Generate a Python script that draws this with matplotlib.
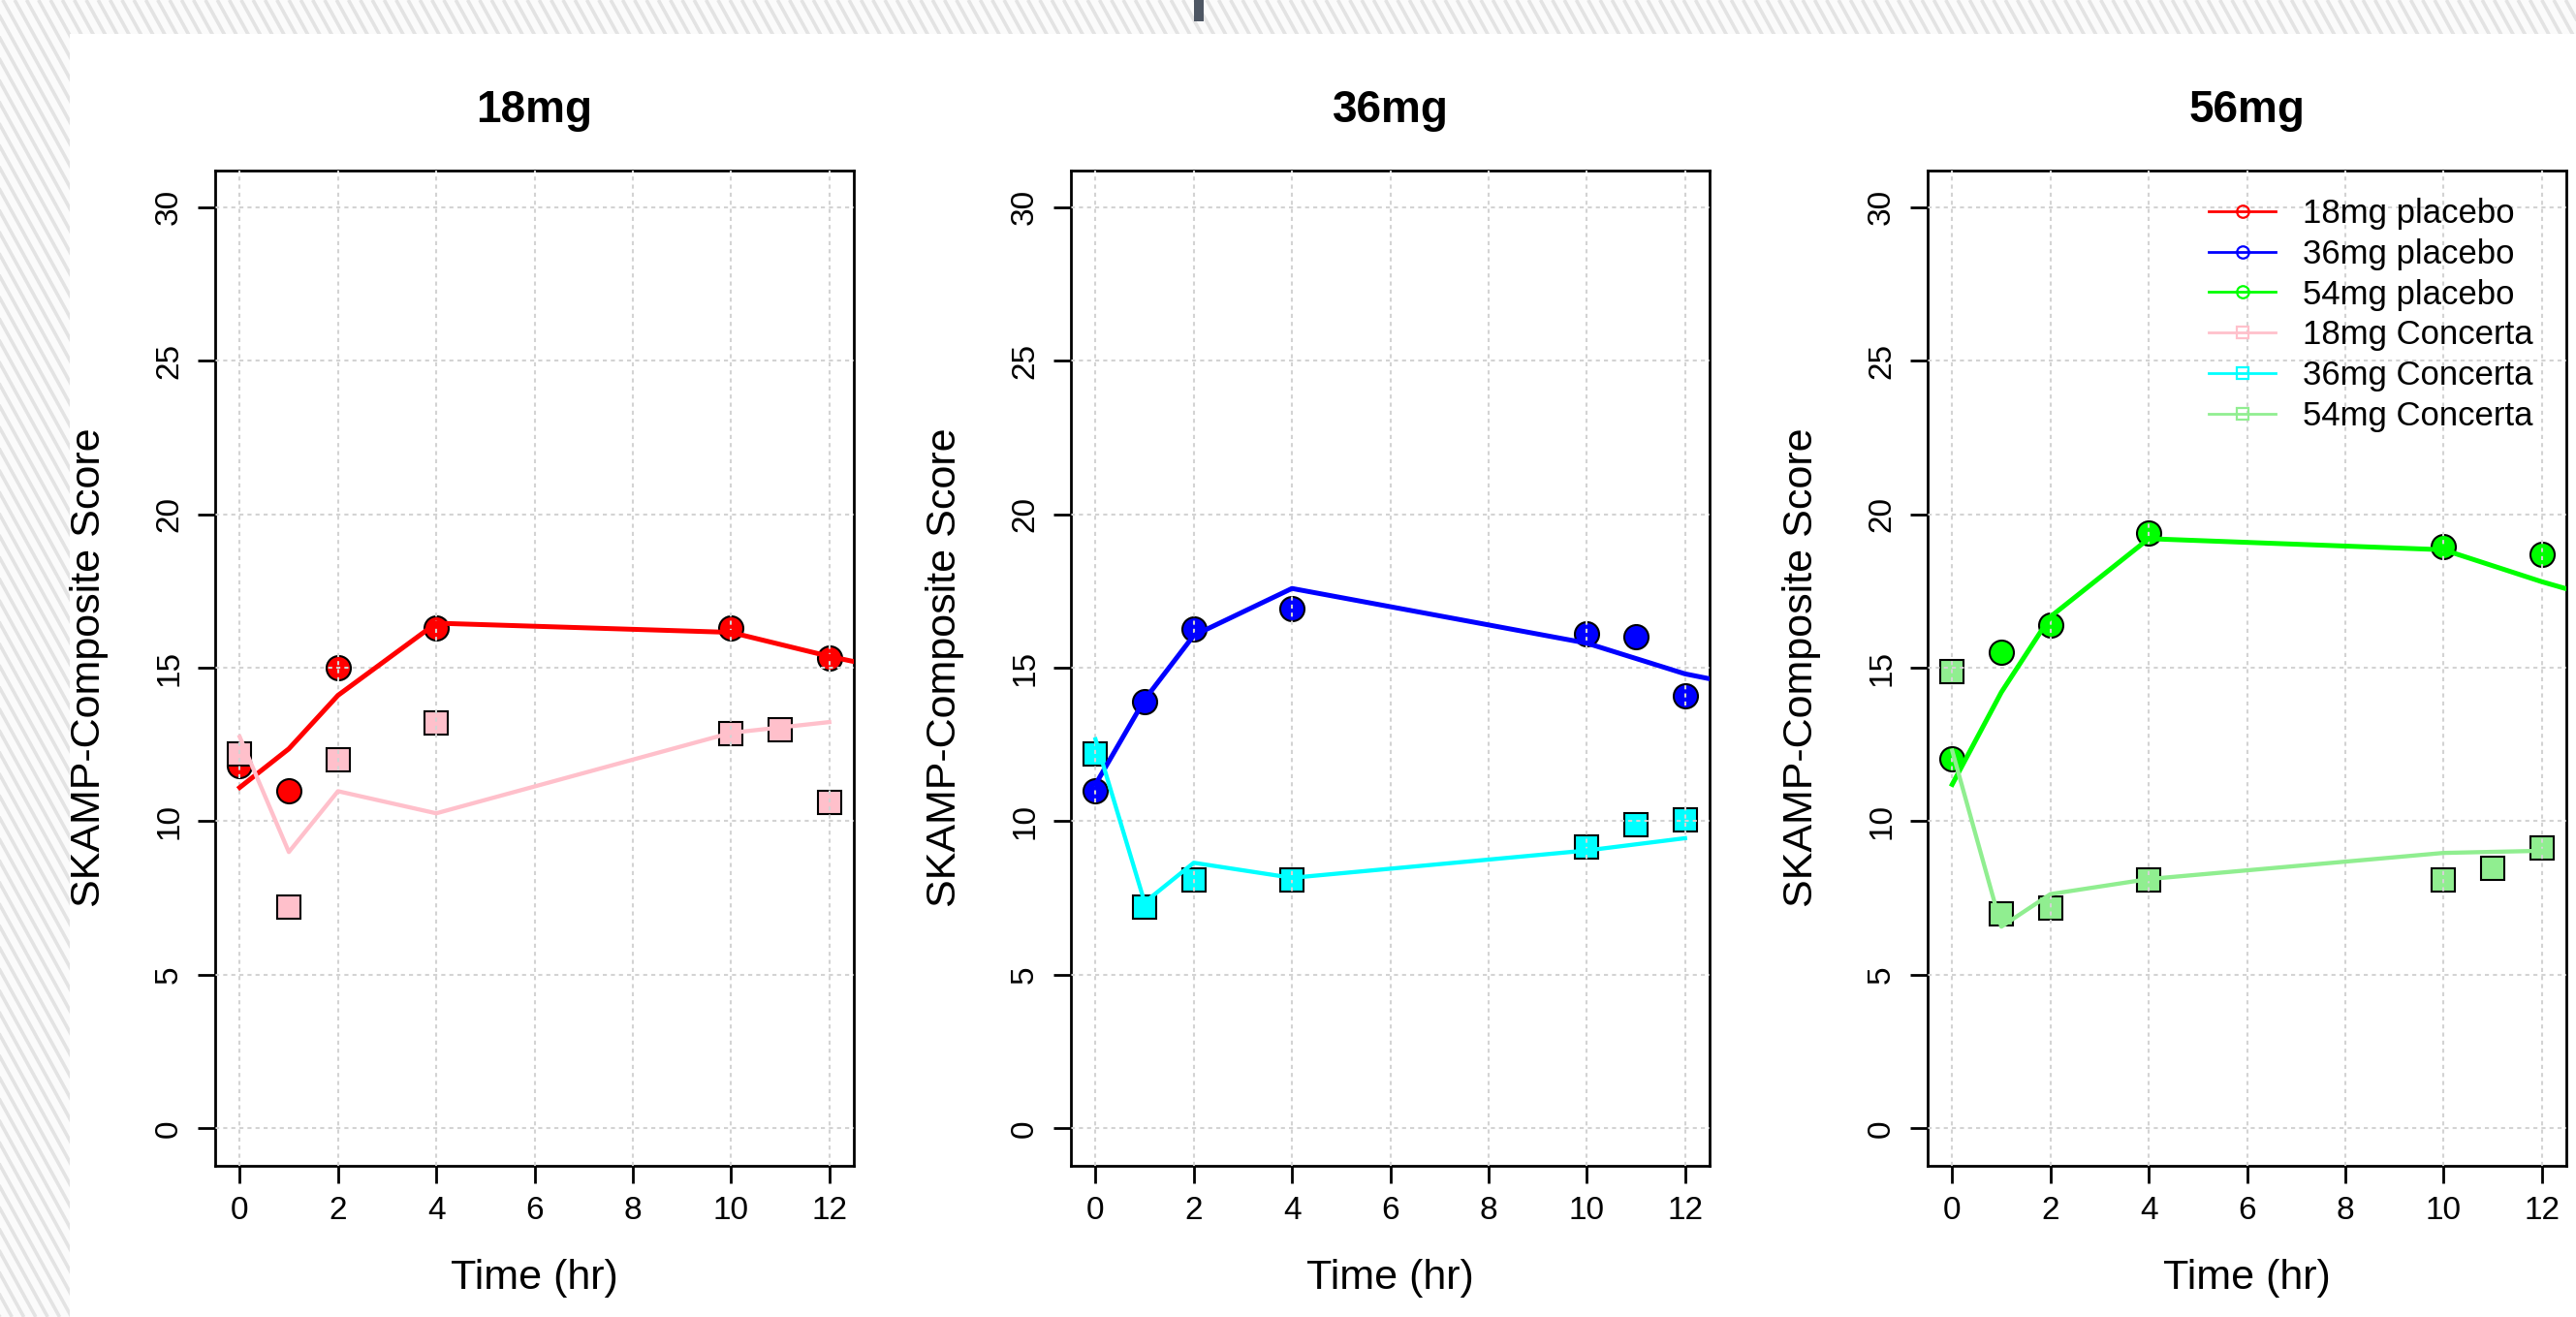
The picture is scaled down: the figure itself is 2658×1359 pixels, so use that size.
import matplotlib
matplotlib.use("Agg")
import matplotlib.pyplot as plt
from matplotlib.lines import Line2D
from matplotlib.patches import Rectangle
from matplotlib.collections import LineCollection

plt.rcParams['font.family'] = ['Liberation Sans', 'DejaVu Sans']

# --- data ---
panel_titles = ["18mg", "36mg", "56mg"]

# observed means (markers)
obs_time_placebo = [[0, 1, 2, 4, 10, 12], [0, 1, 2, 4, 10, 11, 12], [0, 1, 2, 4, 10, 12]]
obs_placebo = [
    [11.8, 11.0, 15.0, 16.3, 16.3, 15.3],
    [11.0, 13.9, 16.25, 16.94, 16.1, 16.0, 14.1],
    [12.03, 15.5, 16.38, 19.38, 18.94, 18.7],
]
obs_time_concerta = [0, 1, 2, 4, 10, 11, 12]
obs_concerta = [
    [12.2, 7.2, 12.0, 13.2, 12.85, 12.97, 10.6],
    [12.2, 7.2, 8.08, 8.08, 9.16, 9.9, 10.05],
    [14.87, 7.0, 7.17, 8.1, 8.1, 8.48, 9.14],
]

# model curves (lines)
fit_time_placebo = [0, 1, 2, 4, 10, 12, 13]
fit_placebo = [
    [11.1, 12.36, 14.1, 16.45, 16.15, 15.37, 15.03],
    [11.2, 13.96, 16.05, 17.58, 15.8, 14.8, 14.48],
    [11.2, 14.2, 16.66, 19.2, 18.84, 17.8, 17.34],
]
fit_time_concerta = [0, 1, 2, 4, 10, 12]
fit_concerta = [
    [12.75, 9.0, 10.98, 10.26, 12.88, 13.23],
    [12.67, 7.36, 8.65, 8.16, 9.05, 9.45],
    [12.3, 6.57, 7.63, 8.12, 8.97, 9.04],
]

placebo_colors = ["#ff0000", "#0000ff", "#00ff00"]
concerta_colors = ["#ffc0cb", "#00ffff", "#90ee90"]
legend_labels = ["18mg placebo", "36mg placebo", "54mg placebo",
                 "18mg Concerta", "36mg Concerta", "54mg Concerta"]

x_ticks = [0, 2, 4, 6, 8, 10, 12]
y_ticks = [0, 5, 10, 15, 20, 25, 30]

W, H = 2658, 1359
fig = plt.figure(figsize=(W / 100, H / 100), dpi=100, facecolor="#fbfbfb")

# striped page background (pixel units -> figure fractions)
slant = 0.55
step = 12.3
segs = []
x0 = -slant * H
while x0 < W:
    segs.append([(x0 / W, 1.0), ((x0 + slant * H) / W, 0.0)])
    x0 += step
fig.add_artist(LineCollection(segs, colors="#e3e3e3", linewidths=2.6,
                              transform=fig.transFigure, zorder=-10))
fig.patches.append(Rectangle((72 / W, 0), 1, 1 - 35 / H, transform=fig.transFigure,
                             facecolor="white", edgecolor="none", zorder=-9))
fig.patches.append(Rectangle((1232 / W, 1 - 22 / H), 10 / W, 22 / H, transform=fig.transFigure,
                             facecolor="#4d5663", edgecolor="none", zorder=-8))

lefts = [222 / W, 1105 / W, 1989 / W]
bottom = 1 - 1202.5 / H
height = (1202.5 - 175.5) / H
width = 659 / W

for i in range(3):
    ax = fig.add_axes([lefts[i], bottom, width, height])
    ax.set_xlim(-0.5, 12.5)
    ax.set_ylim(-1.2, 31.2)

    ax.plot(obs_time_placebo[i], obs_placebo[i], linestyle="none", marker="o", markersize=18,
            markerfacecolor=placebo_colors[i], markeredgecolor="black", markeredgewidth=1.5, zorder=2)
    ax.plot(obs_time_concerta, obs_concerta[i], linestyle="none", marker="s", markersize=17,
            markerfacecolor=concerta_colors[i], markeredgecolor="black", markeredgewidth=1.5, zorder=2)
    ax.plot(fit_time_placebo, fit_placebo[i], color=placebo_colors[i], linewidth=3.6, zorder=3)
    ax.plot(fit_time_concerta, fit_concerta[i], color=concerta_colors[i], linewidth=3.1, zorder=3)

    ax.set_xticks(x_ticks)
    ax.set_yticks(y_ticks)
    ax.grid(True, color="#d3d3d3", linestyle=(0, (2, 2)), linewidth=1.5, zorder=2.5)
    ax.set_axisbelow(False)
    ax.tick_params(axis="both", direction="out", length=13, width=2, labelsize=24, pad=10)
    for lab in ax.get_yticklabels():
        lab.set_rotation(90)
        lab.set_va("center")
    for s in ax.spines.values():
        s.set_linewidth(2)
        s.set_color("black")

    ax.set_title(panel_titles[i], fontsize=33, fontweight="bold", pad=36)
    ax.set_xlabel("Time (hr)", fontsize=31, labelpad=24)
    ax.set_ylabel("SKAMP-Composite Score", fontsize=31, labelpad=34)

    if i == 2:
        handles = []
        for c in placebo_colors:
            handles.append(Line2D([], [], color=c, linewidth=2, marker="o", markersize=9,
                                  markerfacecolor="none", markeredgecolor=c, markeredgewidth=1.6))
        for c in concerta_colors:
            handles.append(Line2D([], [], color=c, linewidth=2, marker="s", markersize=9,
                                  markerfacecolor="none", markeredgecolor=c, markeredgewidth=1.6))
        ax.legend(handles, legend_labels, loc="upper left", bbox_to_anchor=(0.44, 0.972),
                  frameon=False, fontsize=25, borderpad=0, borderaxespad=0, handlelength=2.0,
                  handletextpad=0.8, labelspacing=0.25)

fig.savefig("out.png", dpi=100, facecolor=fig.get_facecolor())
